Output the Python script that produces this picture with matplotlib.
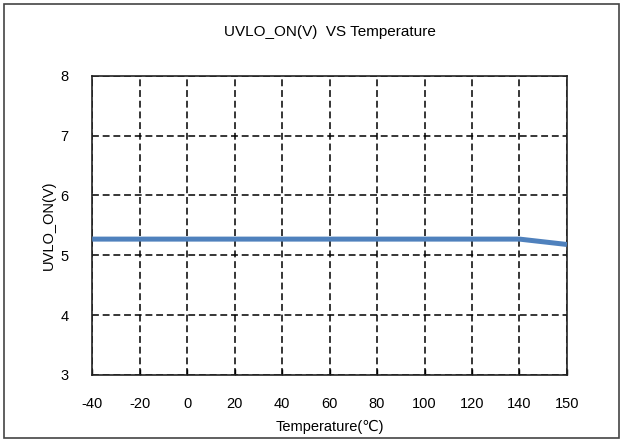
import matplotlib
matplotlib.use('Agg')
import matplotlib.pyplot as plt
from matplotlib.patches import Rectangle

# -----------------------------------------------------------------------------
# Data
# -----------------------------------------------------------------------------

temperatures = ['-40', '-20', '0', '20', '40', '60', '80', '100', '120', '140', '150']
uvlo_on = [5.27, 5.27, 5.27, 5.27, 5.27, 5.27, 5.27, 5.27, 5.27, 5.27, 5.18]
y_ticks = [3, 4, 5, 6, 7, 8]

plt.rcParams['font.family'] = ['Liberation Sans', 'DejaVu Sans']

fig = plt.figure(figsize=(6.23, 4.41), dpi=100)
ax = fig.add_axes([0.148, 0.150, 0.762, 0.678])

positions = list(range(len(temperatures)))
ax.plot(positions, uvlo_on, color='#4f81bd', linewidth=3.6, solid_capstyle='butt', zorder=3)

ax.set_xlim(0, len(temperatures) - 1)
ax.set_ylim(y_ticks[0], y_ticks[-1])
ax.set_xticks(positions)
ax.set_xticklabels(temperatures, fontsize=10.5)
ax.set_yticks(y_ticks)
ax.set_yticklabels([str(v) for v in y_ticks], fontsize=10.5)

ax.grid(True, color='black', linestyle=(0, (4.5, 2.5)), linewidth=1.1)
ax.tick_params(axis='x', direction='in', length=4, width=1, pad=16)
ax.tick_params(axis='y', length=0, pad=17)
for sp in ax.spines.values():
    sp.set_color('#222222')
    sp.set_linewidth(1.2)

ax.set_title('UVLO_ON(V)  VS Temperature', fontsize=11, pad=29)
ax.set_xlabel('Temperature(\u2103)', fontsize=10.5, labelpad=6)
ax.set_ylabel('UVLO_ON(V)', fontsize=10.5, labelpad=3)

# outer chart border
fig.patches.append(Rectangle((0.007, 0.006), 0.987, 0.986, transform=fig.transFigure,
                             fill=False, edgecolor='#444444', linewidth=1.2))

fig.savefig('out.png', dpi=100)
